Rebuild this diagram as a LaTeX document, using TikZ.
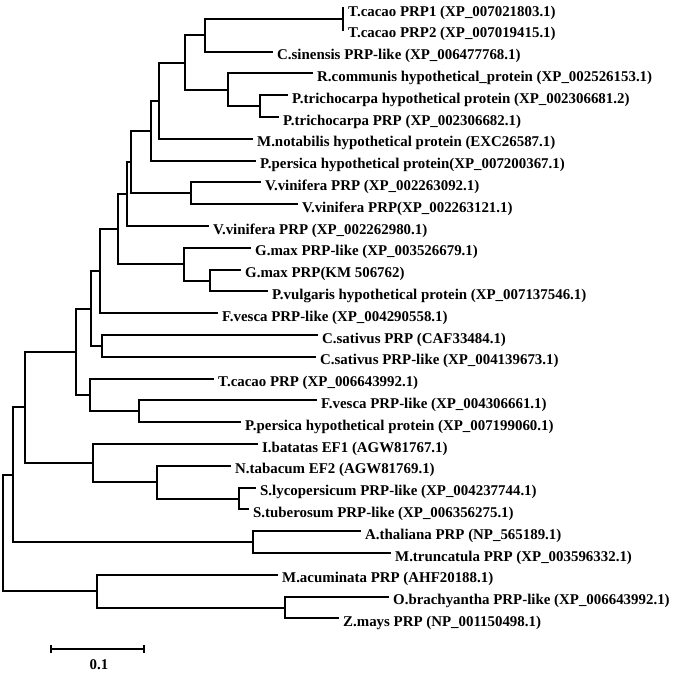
\documentclass[tikz,border=0pt]{standalone}
\usepackage{fontspec}
\setmainfont{Liberation Serif}
\begin{document}
\begin{tikzpicture}[x=1pt,y=-1pt,
  br/.style={line width=2pt,line join=miter,line cap=rect},
  lab/.style={anchor=base west,inner sep=0pt,font=\fontsize{14.9}{16}\selectfont\bfseries,xshift=5pt,yshift=-8pt}]
\useasboundingbox (0,0) rectangle (673,673);
% leaf tips
\coordinate (l1) at (343,8);
\coordinate (l2) at (343,29.8);
\coordinate (l3) at (272,51.6);
\coordinate (l4) at (312,73.4);
\coordinate (l5) at (287,95.2);
\coordinate (l6) at (278,117);
\coordinate (l7) at (252,138.8);
\coordinate (l8) at (255,160.6);
\coordinate (l9) at (260,182.4);
\coordinate (l10) at (297,204.2);
\coordinate (l11) at (208,226);
\coordinate (l12) at (250,247.8);
\coordinate (l13) at (240,269.6);
\coordinate (l14) at (267,291.4);
\coordinate (l15) at (217,313.2);
\coordinate (l16) at (317,335);
\coordinate (l17) at (315,356.8);
\coordinate (l18) at (213,378.6);
\coordinate (l19) at (316,400.4);
\coordinate (l20) at (240,422.2);
\coordinate (l21) at (257,444);
\coordinate (l22) at (230,465.8);
\coordinate (l23) at (255,487.6);
\coordinate (l24) at (248,509.4);
\coordinate (l25) at (360,531.2);
\coordinate (l26) at (390,553);
\coordinate (l27) at (277,574.8);
\coordinate (l28) at (388,596.6);
\coordinate (l29) at (338,618.4);
% internal nodes
\coordinate (nTC) at (343,18.9);
\coordinate (nA) at (205,35.25);
\coordinate (nD) at (260,106.1);
\coordinate (nC) at (228,89.75);
\coordinate (nB) at (185,62.5);
\coordinate (nE) at (159,100.65);
\coordinate (nF) at (151,130.625);
\coordinate (nH) at (191,193.3);
\coordinate (nG) at (131,161.96);
\coordinate (nI) at (127,193.98);
\coordinate (nL) at (210,280.5);
\coordinate (nK) at (184,264.15);
\coordinate (nJ) at (118,229.07);
\coordinate (nM) at (100,271.13);
\coordinate (nN) at (102,345.9);
\coordinate (nO) at (91,308.52);
\coordinate (nR) at (139,411.3);
\coordinate (nQ) at (90,394.95);
\coordinate (nP) at (76,351.73);
\coordinate (nV) at (239,498.5);
\coordinate (nU) at (157,482.15);
\coordinate (nT) at (93,463.08);
\coordinate (nS) at (25,407.4);
\coordinate (nX) at (253,542.1);
\coordinate (nW) at (13,474.75);
\coordinate (nAA) at (285,607.5);
\coordinate (nZ) at (97,591.15);
\coordinate (nRoot) at (3,532.95);
% branches
\draw[br] (nTC) |- (l1) (nTC) |- (l2);
\draw[br] (nA) |- (nTC) (nA) |- (l3);
\draw[br] (nD) |- (l5) (nD) |- (l6);
\draw[br] (nC) |- (l4) (nC) |- (nD);
\draw[br] (nB) |- (nA) (nB) |- (nC);
\draw[br] (nE) |- (nB) (nE) |- (l7);
\draw[br] (nF) |- (nE) (nF) |- (l8);
\draw[br] (nH) |- (l9) (nH) |- (l10);
\draw[br] (nG) |- (nF) (nG) |- (nH);
\draw[br] (nI) |- (nG) (nI) |- (l11);
\draw[br] (nL) |- (l13) (nL) |- (l14);
\draw[br] (nK) |- (l12) (nK) |- (nL);
\draw[br] (nJ) |- (nI) (nJ) |- (nK);
\draw[br] (nM) |- (nJ) (nM) |- (l15);
\draw[br] (nN) |- (l16) (nN) |- (l17);
\draw[br] (nO) |- (nM) (nO) |- (nN);
\draw[br] (nR) |- (l19) (nR) |- (l20);
\draw[br] (nQ) |- (l18) (nQ) |- (nR);
\draw[br] (nP) |- (nO) (nP) |- (nQ);
\draw[br] (nV) |- (l23) (nV) |- (l24);
\draw[br] (nU) |- (l22) (nU) |- (nV);
\draw[br] (nT) |- (l21) (nT) |- (nU);
\draw[br] (nS) |- (nP) (nS) |- (nT);
\draw[br] (nX) |- (l25) (nX) |- (l26);
\draw[br] (nW) |- (nS) (nW) |- (nX);
\draw[br] (nAA) |- (l28) (nAA) |- (l29);
\draw[br] (nZ) |- (l27) (nZ) |- (nAA);
\draw[br] (nRoot) |- (nW) (nRoot) |- (nZ);
% labels
\node[lab] (t1) at (l1) {T.cacao PRP1 (XP\_007021803.1)};
\node[lab] (t2) at (l2) {T.cacao PRP2 (XP\_007019415.1)};
\node[lab] (t3) at (l3) {C.sinensis PRP-like (XP\_006477768.1)};
\node[lab] (t4) at (l4) {R.communis hypothetical\_protein (XP\_002526153.1)};
\node[lab] (t5) at (l5) {P.trichocarpa hypothetical protein (XP\_002306681.2)};
\node[lab] (t6) at (l6) {P.trichocarpa PRP (XP\_002306682.1)};
\node[lab] (t7) at (l7) {M.notabilis hypothetical protein (EXC26587.1)};
\node[lab] (t8) at (l8) {P.persica hypothetical protein(XP\_007200367.1)};
\node[lab] (t9) at (l9) {V.vinifera PRP (XP\_002263092.1)};
\node[lab] (t10) at (l10) {V.vinifera PRP(XP\_002263121.1)};
\node[lab] (t11) at (l11) {V.vinifera PRP (XP\_002262980.1)};
\node[lab] (t12) at (l12) {G.max PRP-like (XP\_003526679.1)};
\node[lab] (t13) at (l13) {G.max PRP(KM 506762)};
\node[lab] (t14) at (l14) {P.vulgaris hypothetical protein (XP\_007137546.1)};
\node[lab] (t15) at (l15) {F.vesca PRP-like (XP\_004290558.1)};
\node[lab] (t16) at (l16) {C.sativus PRP (CAF33484.1)};
\node[lab] (t17) at (l17) {C.sativus PRP-like (XP\_004139673.1)};
\node[lab] (t18) at (l18) {T.cacao PRP (XP\_006643992.1)};
\node[lab] (t19) at (l19) {F.vesca PRP-like (XP\_004306661.1)};
\node[lab] (t20) at (l20) {P.persica hypothetical protein (XP\_007199060.1)};
\node[lab] (t21) at (l21) {I.batatas EF1 (AGW81767.1)};
\node[lab] (t22) at (l22) {N.tabacum EF2 (AGW81769.1)};
\node[lab] (t23) at (l23) {S.lycopersicum PRP-like (XP\_004237744.1)};
\node[lab] (t24) at (l24) {S.tuberosum PRP-like (XP\_006356275.1)};
\node[lab] (t25) at (l25) {A.thaliana PRP (NP\_565189.1)};
\node[lab] (t26) at (l26) {M.truncatula PRP (XP\_003596332.1)};
\node[lab] (t27) at (l27) {M.acuminata PRP (AHF20188.1)};
\node[lab] (t28) at (l28) {O.brachyantha PRP-like (XP\_006643992.1)};
\node[lab] (t29) at (l29) {Z.mays PRP (NP\_001150498.1)};
% scale bar
\coordinate (sb1) at (51,649);
\coordinate (sb2) at (144,649);
\draw[line width=2pt] (sb1) -- (sb2);
\draw[line width=2pt] ([yshift=4pt]sb1) -- ([yshift=-4pt]sb1);
\draw[line width=2pt] ([yshift=4pt]sb2) -- ([yshift=-4pt]sb2);
\node[anchor=base,inner sep=0pt,font=\fontsize{14.9}{16}\selectfont\bfseries] (sbl) at (99,669) {0.1};
\end{tikzpicture}
\end{document}
